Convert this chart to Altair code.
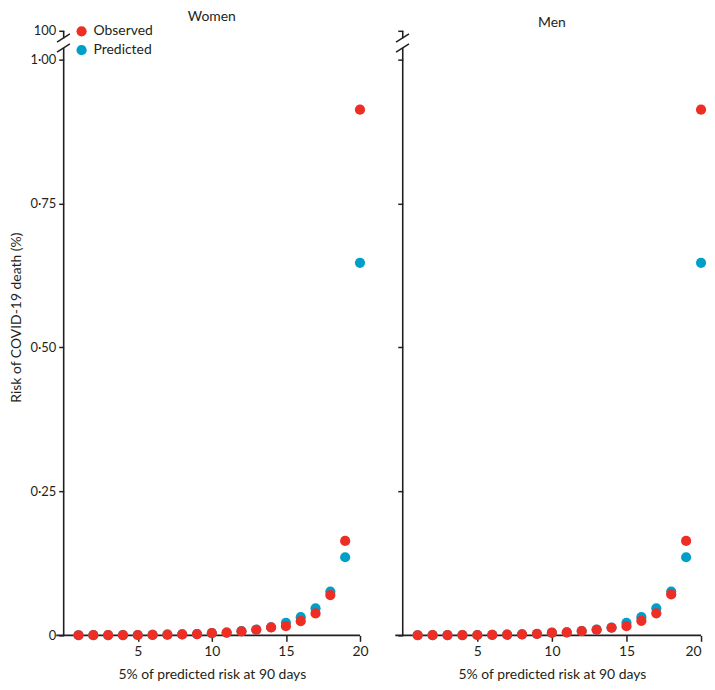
import altair as alt
import pandas as pd

# ---------------- data ----------------
x_groups = list(range(1, 21))
women_observed = [0.0002, 0.0003, 0.0004, 0.0005, 0.0006, 0.0008, 0.0012, 0.0016, 0.0022, 0.0040,
                  0.0048, 0.0070, 0.0097, 0.0137, 0.0160, 0.0246, 0.0380, 0.0700, 0.1640, 0.9130]
women_predicted = [0.0002, 0.0003, 0.0004, 0.0005, 0.0006, 0.0008, 0.0011, 0.0016, 0.0022, 0.0038,
                   0.0048, 0.0072, 0.0100, 0.0140, 0.0217, 0.0315, 0.0470, 0.0760, 0.1356, 0.6470]
men_observed = [0.0002, 0.0003, 0.0004, 0.0005, 0.0006, 0.0008, 0.0012, 0.0017, 0.0024, 0.0046,
                0.0052, 0.0074, 0.0097, 0.0132, 0.0160, 0.0252, 0.0383, 0.0710, 0.1640, 0.9130]
men_predicted = [0.0002, 0.0003, 0.0004, 0.0005, 0.0006, 0.0008, 0.0011, 0.0016, 0.0023, 0.0044,
                 0.0052, 0.0075, 0.0100, 0.0135, 0.0217, 0.0315, 0.0470, 0.0760, 0.1356, 0.6470]

series_names = ["Observed", "Predicted"]
series_colors = ["#EE2D24", "#009FC7"]
panel_titles = ["Women", "Men"]
x_tick_values = [5, 10, 15, 20]
y_tick_values = [0, 0.25, 0.5, 0.75, 1.0, 1.05]
x_title = "5% of predicted risk at 90 days"
y_title = "Risk of COVID-19 death (%)"

# axis-break geometry (data units)
Y_TOP = 1.05
X_MIN, X_MAX = 0, 20
BREAK_LOW_END = 1.020
BREAK_HIGH_START = 1.037

FONT = "Lato"
INK = "#231F20"


def points_df(obs, pred):
    rows = []
    for g, o, p in zip(x_groups, obs, pred):
        rows.append({"group": g, "series": "Predicted", "risk": p, "z": 0})
        rows.append({"group": g, "series": "Observed", "risk": o, "z": 1})
    return pd.DataFrame(rows)


axis_lines = pd.DataFrame({
    "group": [-0.5, 0, 0],
    "group_end": [20, 0, 0],
    "risk": [0, 0, BREAK_HIGH_START],
    "risk_end": [0, BREAK_LOW_END, Y_TOP],
})
break_slashes = pd.DataFrame({
    "group": [-0.45, -0.45],
    "group_end": [0.42, 0.42],
    "risk": [1.0130, 1.0302],
    "risk_end": [1.0275, 1.0447],
})

label_expr = ("datum.value > 1.01 ? '100' : datum.value == 0 ? '0' : "
              "replace(format(datum.value, '.2f'), '.', '\u00b7')")


def panel(title, obs, pred, width, first):
    xs = alt.Scale(domain=[X_MIN, X_MAX], nice=False, zero=False)
    ys = alt.Scale(domain=[0, Y_TOP], nice=False, zero=False)
    x_axis = alt.Axis(values=x_tick_values, domain=False, grid=False, tickSize=6,
                      tickWidth=1.5, tickColor=INK, labelFont=FONT, labelFontSize=14,
                      labelColor=INK, labelPadding=3, labelFlush=(not first),
                      titleFont=FONT, titleFontSize=14, titleFontWeight="normal",
                      titleColor=INK, titlePadding=9)
    y_axis = alt.Axis(values=y_tick_values, domain=False, grid=False, tickSize=5,
                      tickWidth=1.5, tickColor=INK, labels=first, labelExpr=label_expr,
                      labelFont=FONT, labelFontSize=13, labelColor=INK, labelPadding=3,
                      titleFont=FONT, titleFontSize=14, titleFontWeight="normal",
                      titleColor=INK, titleY=288, titleX=-40)
    xt = x_title
    yt = y_title if first else None
    X = lambda: alt.X("group:Q", scale=xs, axis=x_axis, title=xt)
    Y = lambda: alt.Y("risk:Q", scale=ys, axis=y_axis, title=yt)

    pts = alt.Chart(points_df(obs, pred)).mark_circle(size=105, opacity=1).encode(
        x=X(), y=Y(),
        color=alt.Color("series:N", scale=alt.Scale(domain=series_names, range=series_colors),
                        legend=alt.Legend(orient="none", legendX=11, legendY=-6.5, title=None,
                                          symbolType="circle", symbolSize=105,
                                          labelFont=FONT, labelFontSize=14, labelColor=INK,
                                          rowPadding=5, labelOffset=5, padding=0)),
        order=alt.Order("z:Q"),
    )
    lines = alt.Chart(axis_lines).mark_rule(color=INK, strokeWidth=1.6).encode(
        x=X(), x2="group_end:Q", y=Y(), y2="risk_end:Q")
    slashes = alt.Chart(break_slashes).mark_rule(color=INK, strokeWidth=1.5).encode(
        x=X(), x2="group_end:Q", y=Y(), y2="risk_end:Q")
    return alt.layer(lines, slashes, pts).properties(
        width=width, height=608,
        title=alt.TitleParams(title, font=FONT, fontSize=14, fontWeight="normal",
                              color=INK, offset=0.5, frame="group", anchor="middle"),
    )


chart = alt.hconcat(
    panel(panel_titles[0], women_observed, women_predicted, 298, True),
    panel(panel_titles[1], men_observed, men_predicted, 300, False),
    spacing=25,
).properties(
    padding={"left": 2, "top": 0, "right": 0, "bottom": 0},
    background="white",
).configure_view(stroke=None)

chart.save("out.html", embed_options={"renderer": "svg", "actions": False})
